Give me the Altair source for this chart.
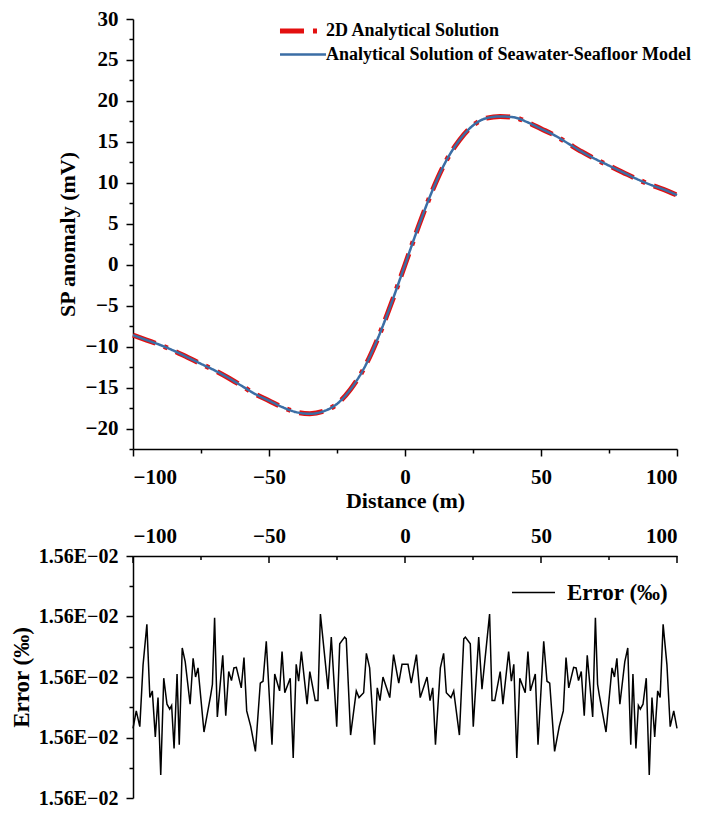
import altair as alt
import pandas as pd

FONT = "Liberation Serif"
RED = "#e30f0f"
BLUE = "#3b6ea5"

# ---------------- top panel data ----------------
series_names = ["2D Analytical Solution", "Analytical Solution of Seawater-Seafloor Model"]
distance = [-100, -95, -90, -85, -80, -75, -70, -65, -60, -55, -50, -45, -40, -35, -30,
            -25, -20, -15, -10, -5, 0, 5, 10, 15, 20, 25, 30, 35, 40, 45, 50, 55, 60,
            65, 70, 75, 80, 85, 90, 95, 100]
sp_2d = [-8.6, -9.2, -9.8, -10.5, -11.3, -12.1, -12.9, -13.8, -14.8, -15.8, -16.6, -17.4,
         -18.0, -18.2, -17.9, -17.0, -15.2, -12.6, -9.0, -4.7, 0.0, 4.7, 9.0, 12.6, 15.2,
         17.0, 17.9, 18.1, 18.0, 17.4, 16.6, 15.8, 14.8, 13.8, 12.9, 12.1, 11.3, 10.5, 9.8,
         9.2, 8.5]
sp_seafloor = [-8.6, -9.2, -9.8, -10.5, -11.3, -12.1, -12.9, -13.8, -14.8, -15.8, -16.6, -17.4,
               -18.0, -18.2, -17.9, -17.0, -15.2, -12.6, -9.0, -4.7, 0.0, 4.7, 9.0, 12.6, 15.2,
               17.0, 17.9, 18.1, 18.0, 17.4, 16.6, 15.8, 14.8, 13.8, 12.9, 12.1, 11.3, 10.5, 9.8,
               9.2, 8.5]

# ---------------- bottom panel data ----------------
error_x = [-100.0, -98.8, -97.5, -96.3, -94.9, -93.8, -92.9, -91.8, -90.8, -89.8, -88.7, -87.5,
           -86.5, -85.8, -84.9, -83.8, -83.0, -81.9, -80.8, -79.0, -77.9, -77.0, -76.1, -73.9,
           -71.4, -70.8, -70.0, -69.0, -67.0, -65.9, -64.8, -63.8, -62.9, -62.0, -60.2, -59.2,
           -58.2, -56.7, -55.0, -53.2, -52.2, -51.0, -48.9, -47.9, -46.1, -45.2, -44.2, -42.2,
           -41.1, -40.0, -39.1, -38.1, -36.0, -35.0, -33.0, -32.0, -31.1, -28.3, -27.1, -25.1,
           -24.0, -22.2, -21.6, -20.0, -17.9, -16.9, -15.2, -14.2, -13.0, -11.2, -10.2, -9.2,
           -8.1, -5.6, -4.2, -2.3, -1.1,
           1.1, 2.3, 4.2, 5.6, 8.1, 9.2, 10.2, 11.2, 13.0, 14.2, 15.2, 16.9, 17.9, 20.0, 21.6,
           22.2, 24.0, 25.1, 27.1, 28.3, 31.1, 32.0, 33.0, 35.0, 36.0, 38.1, 39.1, 40.0, 41.1,
           42.2, 44.2, 45.2, 46.1, 47.9, 48.9, 51.0, 52.2, 53.2, 55.0, 56.7, 58.2, 59.2, 60.2,
           62.0, 62.9, 63.8, 64.8, 65.9, 67.0, 69.0, 70.0, 70.8, 71.4, 73.9, 76.1, 77.0, 77.9,
           79.0, 80.8, 81.9, 83.0, 83.8, 84.9, 85.8, 86.5, 87.5, 88.7, 89.8, 90.8, 91.8, 92.9,
           93.8, 94.9, 96.3, 97.5, 98.8, 100.0]
# error level, in tick-step units above the lowest axis tick
error_level = [1.15, 1.44, 1.18, 2.20, 2.87, 1.66, 1.77, 1.01, 1.66, 0.38, 1.98, 1.55,
               1.47, 1.53, 0.82, 2.05, 0.88, 2.48, 2.25, 1.55, 2.31, 2.00, 2.15, 1.09,
               1.71, 1.88, 2.98, 1.34, 2.36, 1.36, 2.09, 1.94, 2.15, 2.16, 1.82, 2.32,
               1.44, 1.18, 0.77, 1.90, 1.93, 2.59, 0.88, 2.05, 1.77, 2.42, 1.74, 1.98,
               0.66, 2.21, 1.93, 2.42, 1.55, 2.09, 1.61, 1.61, 3.04, 1.80, 2.66, 1.18,
               2.55, 2.66, 2.63, 1.04, 1.77, 1.66, 1.74, 2.39, 2.15, 0.88, 1.82, 1.61,
               2.00, 1.66, 2.37, 1.90, 2.21,
               2.21, 1.90, 2.37, 1.66, 2.00, 1.61, 1.82, 0.88, 2.15, 2.39, 1.74, 1.66, 1.77, 1.04, 2.63,
               2.66, 2.55, 1.18, 2.66, 1.80, 3.04, 1.61, 1.61, 2.09, 1.55, 2.42, 1.93, 2.21, 0.66,
               1.98, 1.74, 2.42, 1.77, 2.05, 0.88, 2.59, 1.93, 1.90, 0.77, 1.18, 1.44, 2.32, 1.82,
               2.16, 2.15, 1.94, 2.09, 1.36, 2.36, 1.34, 2.98, 1.88, 1.71, 1.09, 2.15, 2.00, 2.31,
               1.55, 2.25, 2.48, 0.88, 2.05, 0.82, 1.53, 1.47, 1.55, 1.98, 0.38, 1.66, 1.01, 1.77,
               1.66, 2.87, 2.20, 1.18, 1.44, 1.15]
ERR_LOW = 0.015599998     # lowest tick of the error axis
ERR_STEP = 1e-9           # spacing between labelled ticks

x_ticks = [-100, -75, -50, -25, 0, 25, 50, 75, 100]
y_ticks_top = [-22.5, -20, -17.5, -15, -12.5, -10, -7.5, -5, -2.5, 0, 2.5, 5, 7.5, 10,
               12.5, 15, 17.5, 20, 22.5, 25, 27.5, 30]

LONG_STROKE = "M-2.5,0H2.5"   # legend line symbol, 5x wider than its nominal size

# ---------------- top panel ----------------
top_df = pd.concat([
    pd.DataFrame({"distance": distance, "sp": sp_2d, "series": series_names[0]}),
    pd.DataFrame({"distance": distance, "sp": sp_seafloor, "series": series_names[1]}),
])

top_legend = alt.Legend(
    title=None, orient="none", legendX=158, legendY=0, symbolType=LONG_STROKE,
    symbolSize=339, labelFont=FONT, labelFontSize=18, labelFontWeight="bold",
    labelColor="black", labelLimit=800, labelOffset=11, rowPadding=3, padding=0,
)

top_x = alt.X(
    "distance:Q",
    scale=alt.Scale(domain=[-100, 100], nice=False, zero=False),
    axis=alt.Axis(
        title="Distance (m)", values=x_ticks,
        labelExpr="datum.value % 50 === 0 ? datum.label : ''",
        tickSize={"condition": {"test": "datum.value % 50 !== 0", "value": 4}, "value": 7},
        labelPadding=10, titlePadding=3, labelFontSize=21, titleFontSize=22,
    ),
)
top_y = alt.Y(
    "sp:Q",
    scale=alt.Scale(domain=[-22.5, 30], nice=False, zero=False),
    axis=alt.Axis(
        title="SP anomaly (mV)", values=y_ticks_top,
        labelExpr="datum.value % 5 === 0 ? datum.label : ''",
        tickSize={"condition": {"test": "datum.value % 5 !== 0", "value": 4}, "value": 7},
        labelPadding=8, titlePadding=6, labelFontSize=21, titleFontSize=22,
    ),
)
enc_top = dict(
    x=top_x, y=top_y,
    color=alt.Color("series:N", scale=alt.Scale(domain=series_names, range=[RED, BLUE]),
                    legend=top_legend),
    strokeDash=alt.StrokeDash("series:N",
                              scale=alt.Scale(domain=series_names, range=[[24, 9, 4, 9], [1, 0]]),
                              legend=top_legend),
    strokeWidth=alt.StrokeWidth("series:N",
                                scale=alt.Scale(domain=series_names, range=[5, 2.5]),
                                legend=top_legend),
)
base_top = alt.Chart(top_df)
red_line = base_top.transform_filter(alt.datum.series == series_names[0]).mark_line(
    interpolate="monotone").encode(**enc_top)
blue_line = base_top.transform_filter(alt.datum.series == series_names[1]).mark_line(
    interpolate="monotone").encode(**enc_top)
top = alt.layer(red_line, blue_line).properties(width=544, height=430)

# ---------------- bottom panel ----------------
err_df = pd.DataFrame({
    "distance": error_x,
    "error": [ERR_LOW + lv * ERR_STEP for lv in error_level],
    "series": "Error (‰)",
})
err_ticks = [ERR_LOW + k * ERR_STEP / 2 for k in range(9)]
minor_test = f"round((datum.value - {ERR_LOW}) / {ERR_STEP / 2}) % 2 !== 0"

bot_x = alt.X(
    "distance:Q",
    scale=alt.Scale(domain=[-100, 100], nice=False, zero=False),
    axis=alt.Axis(orient="top", title=None, values=[-100, -50, 0, 50, 100], ticks=False,
                  labelPadding=10, labelFontSize=21),
)
bot_y = alt.Y(
    "error:Q",
    scale=alt.Scale(domain=[ERR_LOW, ERR_LOW + 4 * ERR_STEP], nice=False, zero=False),
    axis=alt.Axis(
        title="Error (‰)", values=err_ticks,
        labelExpr=f"({minor_test}) ? '' : format(datum.value * 100, '.2f') + 'E−02'",
        tickSize={"condition": {"test": minor_test, "value": 4}, "value": 7},
        labelPadding=8, titlePadding=5, labelFontSize=20, titleFontSize=23,
    ),
)
err_line = alt.Chart(err_df).mark_line(strokeWidth=1.5).encode(
    x=bot_x, y=bot_y,
    color=alt.Color("series:N", scale=alt.Scale(range=["black"]),
                    legend=alt.Legend(title=None, orient="none", legendX=389, legendY=25,
                                      symbolType=LONG_STROKE, symbolSize=296,
                                      symbolStrokeWidth=1.5, labelFont=FONT,
                                      labelFontSize=23, labelFontWeight="bold",
                                      labelColor="black", labelOffset=22, padding=0)),
)
major_ticks = alt.Chart(pd.DataFrame({"distance": [-100, -50, 0, 50, 100]})).mark_rule(
    color="black", strokeWidth=1.5).encode(x=bot_x, y=alt.value(0), y2=alt.value(7))
minor_ticks = alt.Chart(pd.DataFrame({"distance": [-75, -25, 25, 75]})).mark_rule(
    color="black", strokeWidth=1.5).encode(x=bot_x, y=alt.value(0), y2=alt.value(4))
bottom = alt.layer(err_line, major_ticks, minor_ticks).properties(width=544, height=242)

chart = alt.vconcat(top, bottom, spacing=14).resolve_scale(
    x="independent", y="independent", color="independent",
    strokeDash="independent", strokeWidth="independent",
).resolve_legend(color="independent").configure(
    padding={"left": 2, "right": 0, "top": 0, "bottom": 0}
).configure_axis(
    labelFont=FONT, titleFont=FONT, labelFontWeight="bold", titleFontWeight="bold",
    labelColor="black", titleColor="black", domainColor="black", tickColor="black",
    domainWidth=1.5, tickWidth=1.5, grid=False,
).configure_view(stroke=None)

chart.save("out.html", embed_options={"renderer": "svg", "actions": False})
